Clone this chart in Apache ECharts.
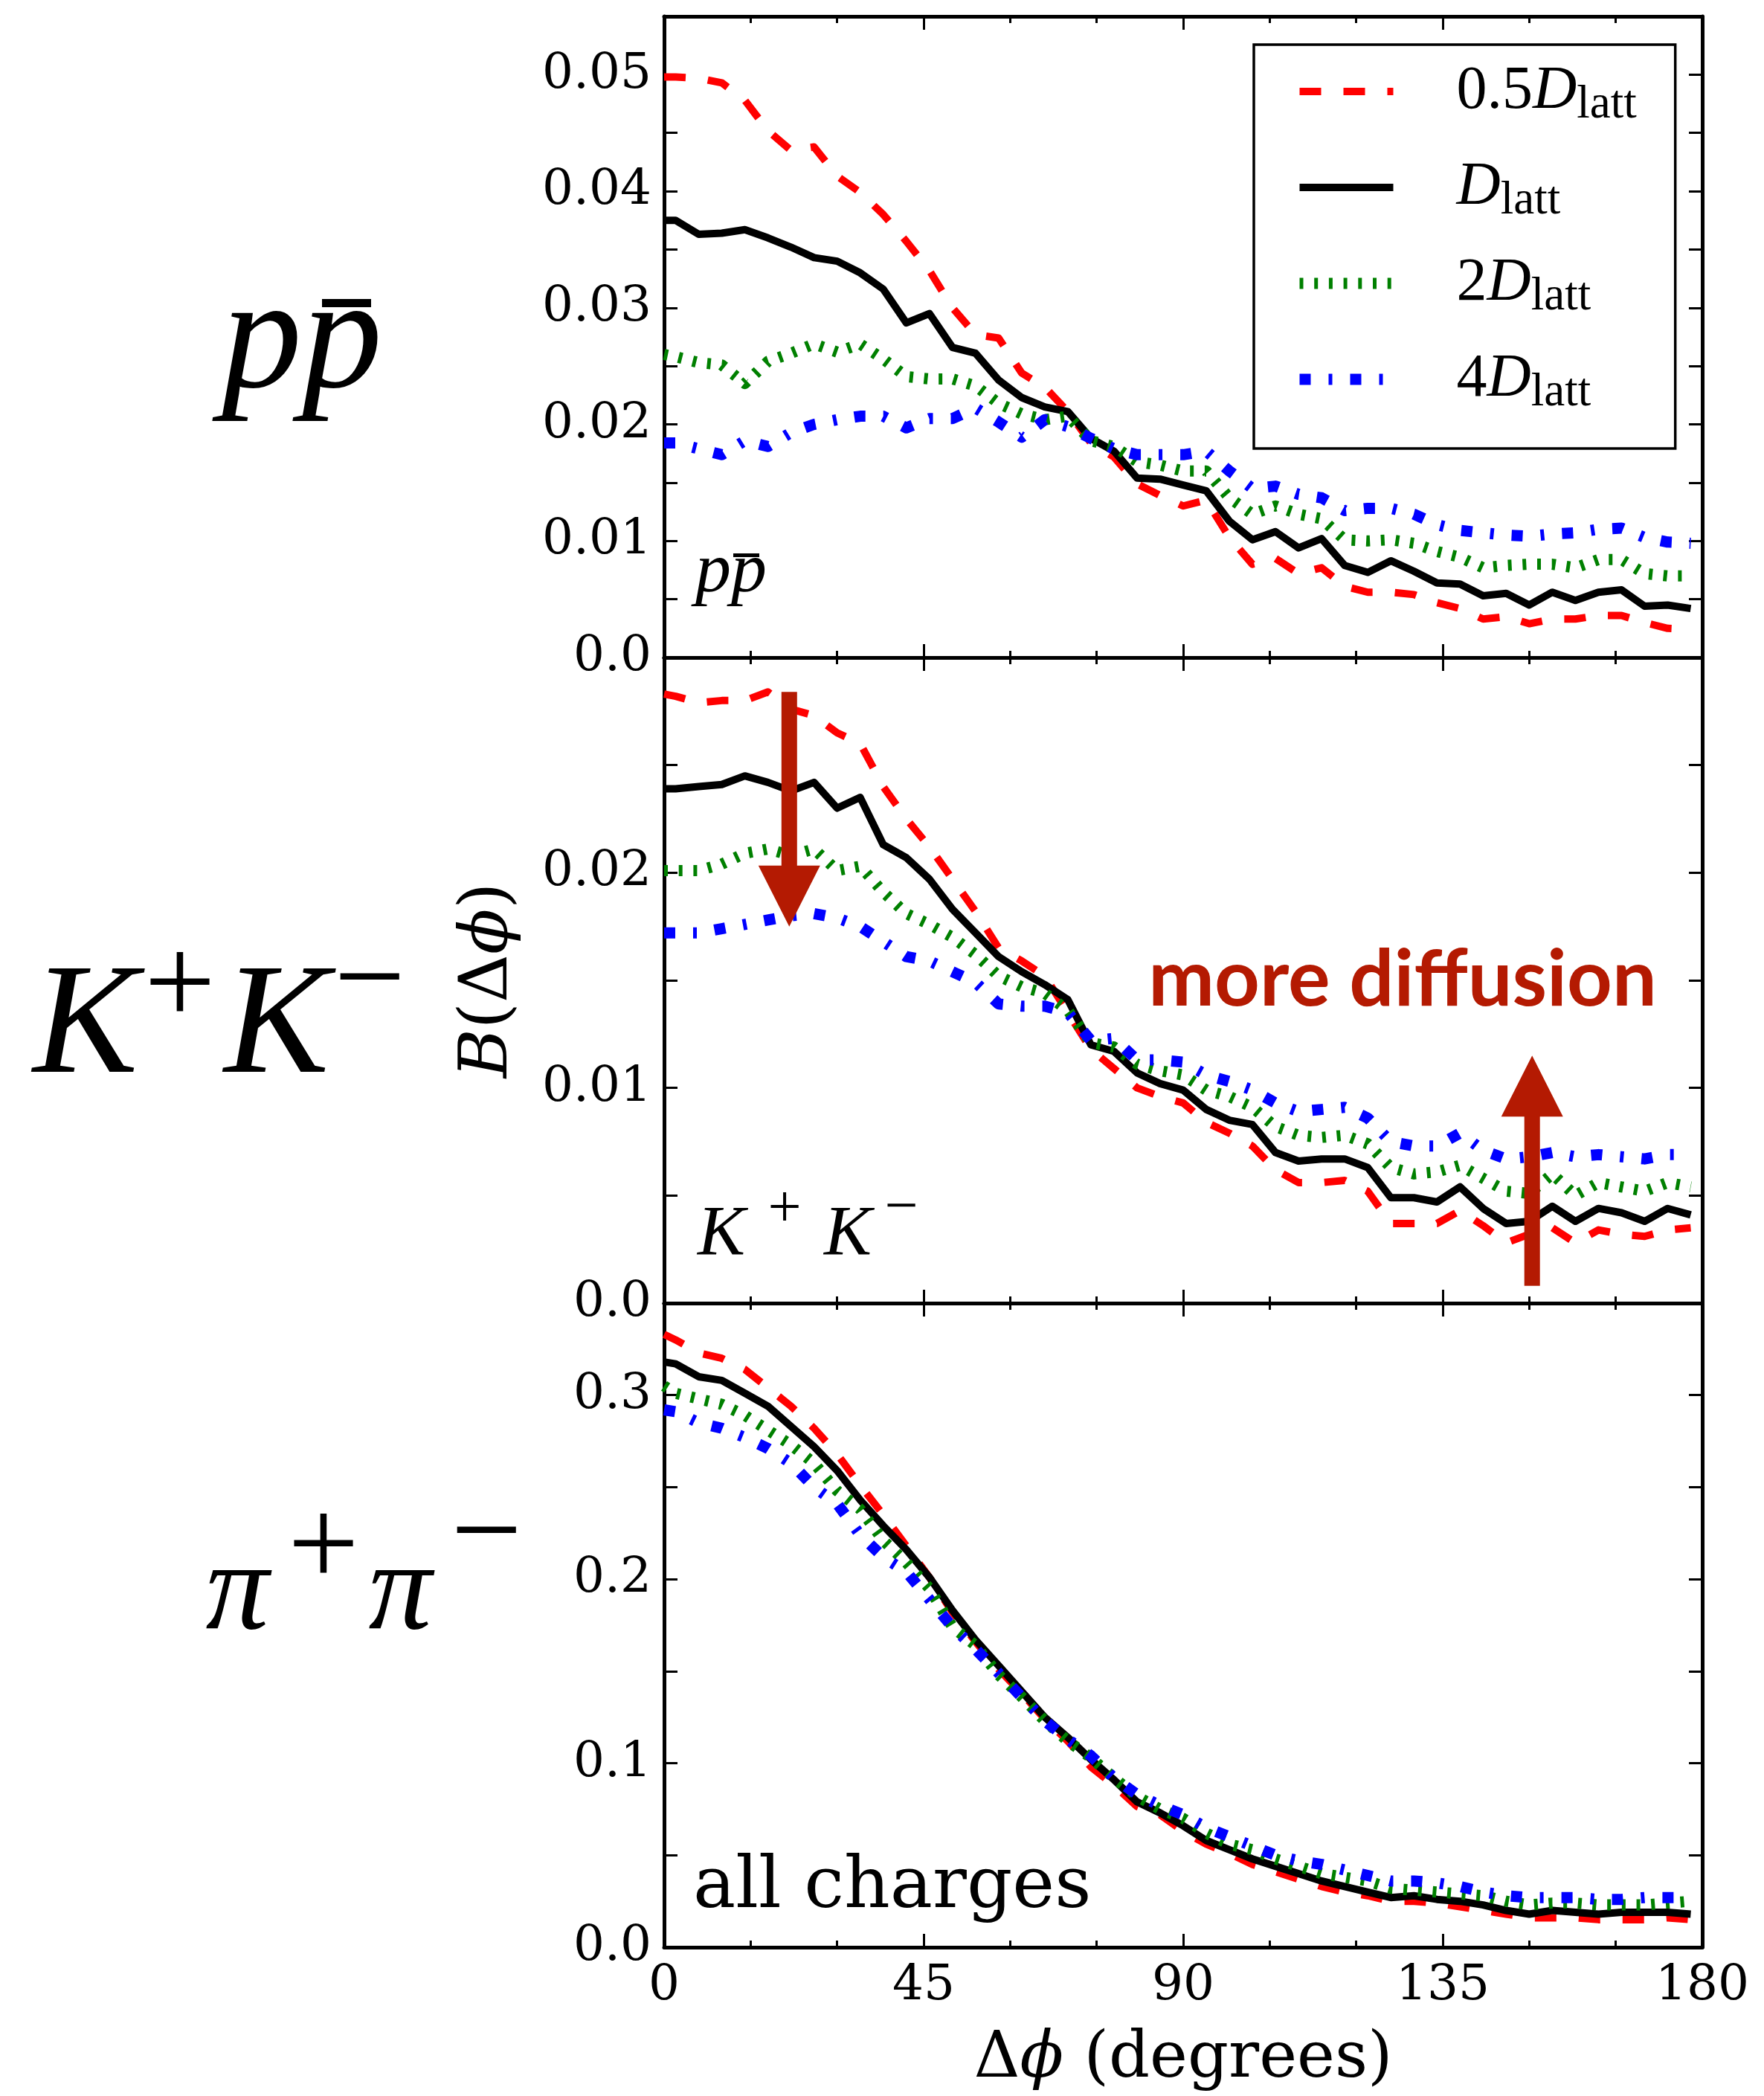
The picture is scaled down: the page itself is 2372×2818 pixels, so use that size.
<!DOCTYPE html>
<html>
<head>
<meta charset="utf-8">
<title>Balance functions B(Δφ)</title>
<script src="https://cdn.jsdelivr.net/npm/echarts@6/dist/echarts.min.js"></script>
<style>
html,body{margin:0;padding:0;background:#ffffff;}
#chart{width:2372px;height:2818px;}
</style>
</head>
<body>
<div id="chart"></div>
<script>
// ---------------- data ----------------
const angles = [0,2,6,10,14,18,22,26,30,34,38,42,46,50,54,58,62,66,70,74,78,82,86,90,94,98,102,106,110,114,118,122,126,130,134,138,142,146,150,154,158,162,166,170,174,178];
const seriesNames = ['0.5D', 'D', '2D', '4D'];

// p pbar panel
const pp_half = [0.0498, 0.0498,0.0497,0.0493,0.0478,0.0452,0.0435,0.0438,0.0413,0.0399,0.0380, 0.0357,0.0332,0.0300,0.0277,0.0274,0.0244,0.0232,0.0211,0.0184,0.0172, 0.0149,0.0139,0.0130,0.0135,0.0103,0.0080,0.0085,0.0072,0.0077,0.0061, 0.0056,0.0056,0.0054,0.0047,0.0042,0.0033,0.0035,0.0029,0.0033,0.0033, 0.0036,0.0036,0.0030,0.0025,0.0024];
const pp_one  = [0.0375, 0.0375,0.0363,0.0364,0.0367,0.0360,0.0352,0.0343,0.0340,0.0330,0.0316, 0.0287,0.0295,0.0266,0.0261,0.0238,0.0223,0.0215,0.0211,0.0188,0.0177, 0.0154,0.0153,0.0148,0.0143,0.0117,0.0101,0.0108,0.0094,0.0102,0.0079, 0.0073,0.0083,0.0074,0.0064,0.0063,0.0053,0.0055,0.0045,0.0056,0.0049, 0.0056,0.0058,0.0044,0.0045,0.0042];
const pp_two  = [0.0260, 0.0258,0.0253,0.0251,0.0235,0.0254,0.0261,0.0269,0.0262,0.0269,0.0256, 0.0241,0.0239,0.0239,0.0233,0.0218,0.0209,0.0204,0.0207,0.0186,0.0181, 0.0168,0.0165,0.0160,0.0160,0.0137,0.0123,0.0130,0.0123,0.0119,0.0101, 0.0100,0.0101,0.0098,0.0091,0.0086,0.0077,0.0079,0.0080,0.0080,0.0077, 0.0084,0.0084,0.0072,0.0070,0.0070];
const pp_four = [0.0184, 0.0184,0.0179,0.0174,0.0186,0.0181,0.0193,0.0200,0.0204,0.0207,0.0207, 0.0197,0.0205,0.0205,0.0214,0.0202,0.0189,0.0204,0.0198,0.0188,0.0179, 0.0174,0.0174,0.0174,0.0177,0.0160,0.0145,0.0147,0.0140,0.0137,0.0126, 0.0128,0.0128,0.0123,0.0114,0.0109,0.0107,0.0105,0.0104,0.0106,0.0107, 0.0110,0.0111,0.0103,0.0099,0.0098];

// K+ K- panel
const kk_half = [0.0283, 0.0282,0.0279,0.0280,0.0280,0.0284,0.0276,0.0273,0.0265,0.0260,0.0240, 0.0225,0.0212,0.0197,0.0182,0.0165,0.0159,0.0152,0.0135,0.0118,0.0109, 0.0100,0.0096,0.0093,0.0084,0.0079,0.0073,0.0062,0.0056,0.0056,0.0057, 0.0052,0.0037,0.0037,0.0037,0.0043,0.0036,0.0028,0.0032,0.0035,0.0028, 0.0034,0.0032,0.0031,0.0034,0.0035];
const kk_one  = [0.0239, 0.0239,0.0240,0.0241,0.0245,0.0242,0.0238,0.0242,0.0230,0.0235,0.0213, 0.0207,0.0197,0.0183,0.0172,0.0161,0.0154,0.0148,0.0141,0.0120,0.0117, 0.0107,0.0102,0.0099,0.0090,0.0085,0.0083,0.0070,0.0066,0.0067,0.0067, 0.0063,0.0049,0.0049,0.0047,0.0054,0.0044,0.0037,0.0038,0.0045,0.0038, 0.0044,0.0042,0.0038,0.0044,0.0041];
const kk_two  = [0.0201, 0.0201,0.0201,0.0204,0.0209,0.0211,0.0208,0.0211,0.0201,0.0203,0.0191, 0.0181,0.0176,0.0170,0.0162,0.0152,0.0147,0.0144,0.0136,0.0121,0.0119, 0.0111,0.0108,0.0106,0.0099,0.0096,0.0091,0.0082,0.0078,0.0077,0.0078, 0.0074,0.0063,0.0060,0.0061,0.0064,0.0058,0.0052,0.0051,0.0060,0.0050, 0.0056,0.0054,0.0052,0.0056,0.0054];
const kk_four = [0.0172, 0.0172,0.0172,0.0174,0.0176,0.0178,0.0180,0.0181,0.0179,0.0175,0.0168, 0.0161,0.0159,0.0154,0.0149,0.0139,0.0138,0.0138,0.0135,0.0122,0.0123, 0.0113,0.0113,0.0112,0.0106,0.0103,0.0099,0.0093,0.0089,0.0090,0.0091, 0.0086,0.0075,0.0073,0.0073,0.0079,0.0071,0.0067,0.0068,0.0070,0.0068, 0.0069,0.0068,0.0067,0.0069,0.0069];

// pi+ pi- (all charges) panel
const pi_half = [0.333, 0.330,0.323,0.320,0.314,0.304,0.294,0.282,0.268,0.251,0.235, 0.218,0.201,0.182,0.166,0.151,0.138,0.124,0.112,0.098,0.088, 0.0765,0.072,0.063,0.056,0.051,0.045,0.041,0.037,0.033,0.030, 0.028,0.025,0.025,0.024,0.022,0.020,0.018,0.016,0.016,0.016, 0.015,0.015,0.015,0.016,0.015];
const pi_one  = [0.318, 0.317,0.310,0.308,0.301,0.294,0.283,0.272,0.259,0.243,0.229, 0.216,0.201,0.183,0.167,0.153,0.139,0.125,0.114,0.102,0.091, 0.079,0.073,0.066,0.058,0.053,0.048,0.044,0.040,0.036,0.033, 0.030,0.027,0.028,0.026,0.025,0.023,0.020,0.018,0.020,0.019, 0.018,0.019,0.019,0.019,0.018];
const pi_two  = [0.305, 0.301,0.298,0.295,0.289,0.281,0.273,0.263,0.248,0.238,0.221, 0.209,0.195,0.174,0.164,0.148,0.136,0.123,0.112,0.103,0.092, 0.082,0.075,0.070,0.062,0.056,0.053,0.048,0.044,0.040,0.038, 0.036,0.032,0.031,0.030,0.029,0.028,0.025,0.023,0.024,0.024, 0.023,0.023,0.023,0.024,0.025];
const pi_four = [0.292, 0.291,0.285,0.282,0.277,0.271,0.263,0.250,0.241,0.224,0.212, 0.204,0.189,0.174,0.162,0.149,0.136,0.123,0.113,0.104,0.092, 0.083,0.077,0.072,0.065,0.060,0.055,0.050,0.047,0.045,0.042, 0.039,0.036,0.036,0.035,0.033,0.030,0.028,0.027,0.027,0.027, 0.026,0.026,0.027,0.027,0.027];

// tick labels
const xTickLabels  = ['0','45','90','135','180'];
const ppTickLabels = ['0.0','0.01','0.02','0.03','0.04','0.05'];
const kkTickLabels = ['0.0','0.01','0.02'];
const piTickLabels = ['0.0','0.1','0.2','0.3'];

// annotation arrows (data coordinates of the K+K- panel)
const arrowDown = {x: 21.7, from: 0.0284, to: 0.0175};
const arrowUp   = {x: 150.5, from: 0.0008, to: 0.0115};

// ---------------- styling ----------------
const SERIF = '"DejaVu Serif", serif';
const MATH = '"Liberation Serif", serif';
const DARKRED = '#b41a02';
const lineStyles = [
  {color: '#ff0000', width: 10, type: [29, 30]},
  {color: '#000000', width: 10, type: 'solid'},
  {color: '#008000', width: 15, type: [5, 14.7]},
  {color: '#0000ff', width: 15, type: [15, 24, 5, 24]}
];
const panels = [
  {vals: [pp_half, pp_one, pp_two, pp_four], max: 0.055, interval: 0.005, ticks: ppTickLabels, grid: {left: 893, top: 22, width: 1396, height: 862}},
  {vals: [kk_half, kk_one, kk_two, kk_four], max: 0.03, interval: 0.005, ticks: kkTickLabels, grid: {left: 893, top: 884, width: 1396, height: 868}},
  {vals: [pi_half, pi_one, pi_two, pi_four], max: 0.35, interval: 0.05, ticks: piTickLabels, grid: {left: 893, top: 1752, width: 1396, height: 866}}
];

function labelFrom(list) {
  return function (v) {
    const hit = list.find(t => Math.abs(parseFloat(t) - v) < 1e-9);
    return hit === undefined ? '' : hit;
  };
}

const axisLine = {show: true, onZero: false, lineStyle: {color: '#000', width: 5}};
const axisTick = {show: true, inside: true, length: 18, lineStyle: {color: '#000', width: 3}};
const minorTick = {show: true, splitNumber: 3, length: 9, lineStyle: {color: '#000', width: 3}};

const grid = [], xAxis = [], yAxis = [], series = [];
panels.forEach((p, g) => {
  grid.push(Object.assign({containLabel: false}, p.grid));
  const isBottom = g === panels.length - 1;
  const xBase = {gridIndex: g, type: 'value', min: 0, max: 180, interval: 45,
    axisLine, axisTick, minorTick, splitLine: {show: false}, minorSplitLine: {show: false}};
  xAxis.push(Object.assign({}, xBase, {
    position: 'bottom',
    axisLabel: {show: isBottom, fontFamily: SERIF, fontSize: 66, color: '#000', margin: 20, formatter: labelFrom(xTickLabels)},
    name: isBottom ? '{r|Δ}{i|ϕ}{r| (degrees)}' : '',
    nameLocation: 'middle', nameGap: 109,
    nameTextStyle: {rich: {
      r: {fontFamily: SERIF, fontSize: 86, lineHeight: 86, color: '#000'},
      i: {fontFamily: SERIF, fontStyle: 'italic', fontSize: 86, lineHeight: 86, color: '#000'}
    }}
  }));
  xAxis.push(Object.assign({}, xBase, {position: 'top', axisLabel: {show: false}}));
  const yBase = {gridIndex: g, type: 'value', min: 0, max: p.max, interval: p.interval,
    axisLine, axisTick, splitLine: {show: false}};
  yAxis.push(Object.assign({}, yBase, {
    position: 'left',
    axisLabel: {show: true, fontFamily: SERIF, fontSize: 66, color: '#000', margin: 17, formatter: labelFrom(p.ticks)},
    name: g === 1 ? '{i|B}{r|(Δ}{i|ϕ}{r|)}' : '',
    nameLocation: 'middle', nameGap: 190, nameRotate: 90,
    nameTextStyle: {rich: {
      r: {fontFamily: SERIF, fontSize: 90, lineHeight: 90, color: '#000'},
      i: {fontFamily: SERIF, fontStyle: 'italic', fontSize: 90, lineHeight: 90, color: '#000'}
    }}
  }));
  yAxis.push(Object.assign({}, yBase, {position: 'right', axisLabel: {show: false}}));
  p.vals.forEach((vals, s) => {
    series.push({
      name: seriesNames[s], type: 'line', xAxisIndex: 2 * g, yAxisIndex: 2 * g,
      data: angles.map((a, i) => [a, vals[i]]),
      symbol: 'none', showSymbol: false, clip: true, z: 2 + s,
      lineStyle: Object.assign({cap: 'butt', join: 'round'}, lineStyles[s]),
      emphasis: {disabled: true}, animation: false
    });
  });
});

const legendRich = {
  n: {fontFamily: MATH, fontSize: 82, lineHeight: 100, color: '#000'},
  d: {fontFamily: MATH, fontStyle: 'italic', fontSize: 82, lineHeight: 100, color: '#000'},
  s: {fontFamily: MATH, fontSize: 63, lineHeight: 40, verticalAlign: 'bottom', color: '#000'}
};
const legendText = {'0.5D': '{n|0.5}{d|D}{s|latt}', 'D': '{d|D}{s|latt}', '2D': '{n|2}{d|D}{s|latt}', '4D': '{n|4}{d|D}{s|latt}'};

const option = {
  animation: false,
  backgroundColor: '#ffffff',
  grid, xAxis, yAxis, series,
  legend: {
    show: true, orient: 'vertical', left: 1686, top: 60,
    padding: [22, 52, 43, 54], itemGap: 38, itemWidth: 126, itemHeight: 16,
    borderColor: '#000', borderWidth: 3.5, backgroundColor: '#fff', borderRadius: 0,
    selectedMode: false,
    itemStyle: {opacity: 0, borderWidth: 0},
    data: seriesNames.map((n, i) => ({name: n, itemStyle: {opacity: 0, borderWidth: 0}, lineStyle: Object.assign({cap: 'butt'}, lineStyles[i])})),
    formatter: name => legendText[name],
    textStyle: {padding: [0, 0, 0, 80], rich: legendRich}
  }
};

const chart = echarts.init(document.getElementById('chart'), null, {renderer: 'canvas'});
chart.setOption(option);

// ---------------- annotations ----------------
function txt(text, x, y, font, align, fill) {
  return {type: 'text', z: 100, silent: true,
    style: {text, x, y, font, fill: fill || '#000', align: align || 'center', textAlign: align || 'center', verticalAlign: 'middle', textVerticalAlign: 'middle'}};
}
function rect(x, y, w, h, fill) {
  return {type: 'rect', z: 100, silent: true, shape: {x, y, width: w, height: h}, style: {fill: fill || '#000'}};
}
function arrow(a, dir) {
  const p0 = chart.convertToPixel({gridIndex: 1}, [a.x, a.from]);
  const p1 = chart.convertToPixel({gridIndex: 1}, [a.x, a.to]);
  const cx = p0[0], y0 = p0[1], tip = p1[1], hw = 10.5, hh = 41.5, hl = 82;
  const base = tip - dir * hl;
  return {type: 'polygon', z: 100, silent: true, shape: {points: [
    [cx - hw, y0], [cx + hw, y0], [cx + hw, base], [cx + hh, base], [cx, tip], [cx - hh, base], [cx - hw, base]
  ]}, style: {fill: DARKRED}};
}
const bigI = sz => 'italic ' + sz + 'px ' + MATH;
const bigR = sz => sz + 'px ' + MATH;
chart.setOption({graphic: [
  // big row labels
  txt('pp', 298, 463, bigI(216), 'left'), rect(433, 402, 66, 11),
  txt('K', 115, 1385, bigI(212)), txt('+', 242, 1331, bigR(170)),
  txt('K', 372, 1385, bigI(212)), txt('\u2212', 497, 1324, bigR(170)),
  txt('\u03c0', 319, 2144, bigI(170)), txt('+', 435, 2086, bigR(170)),
  txt('\u03c0', 538, 2144, bigI(170)), txt('\u2212', 654, 2068, bigR(170)),
  // in-panel labels
  txt('pp', 935, 770, bigI(96), 'left'), rect(986, 744, 35, 5),
  txt('K', 970, 1662, bigI(96)), txt('+', 1055, 1628, bigR(80)),
  txt('K', 1140, 1662, bigI(96)), txt('\u2212', 1212, 1626, bigR(80)),
  txt('all charges', 932, 2539, '96px ' + SERIF, 'left'),
  txt('more diffusion', 1886, 1318, 'bold 106px Lato, sans-serif', 'center', DARKRED),
  arrow(arrowDown, 1), arrow(arrowUp, -1)
]});
</script>
</body>
</html>
